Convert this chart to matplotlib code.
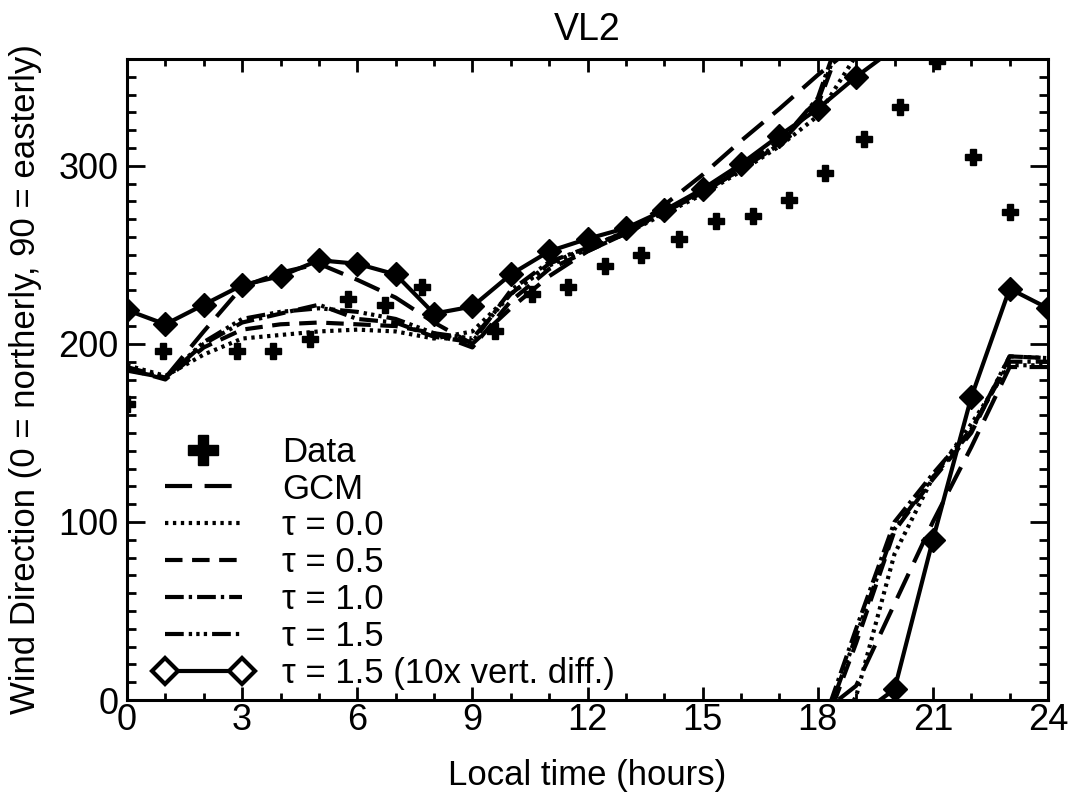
#!/usr/bin/env python3
"""VL2 wind direction: Viking Lander 2 data vs GCM and boundary-layer model runs."""

import numpy as np
import matplotlib
matplotlib.use("Agg")
import matplotlib.pyplot as plt
from matplotlib.lines import Line2D
from matplotlib.legend_handler import HandlerLine2D
from matplotlib.ticker import MultipleLocator

plt.rcParams["font.family"] = ["Liberation Sans", "DejaVu Sans"]

# Model output, one value per local hour 0..24 (degrees, 0-360)
hours = np.arange(25)
gcm = [185, 181, 207, 232, 240, 245, 236, 226, 212, 200, 220, 238, 252,
       262, 278, 295, 314, 332, 351, 8, 54, 100, 142, 187, 187]
tau_00 = [188, 182, 194, 203, 205, 207, 208, 207, 203, 207, 228, 244, 253,
          262, 273, 284, 297, 311, 328, 2, 82, 125, 155, 188, 188]
tau_05 = [186, 180, 198, 208, 211, 212, 211, 210, 206, 198, 224, 242, 252,
          262, 274, 286, 300, 314, 334, 32, 95, 124, 150, 193, 192]
tau_10 = [187, 181, 200, 212, 217, 222, 214, 212, 204, 201, 230, 246, 254,
          263, 274, 285, 298, 313, 338, 40, 100, 127, 152, 190, 190]
tau_15 = [186, 181, 201, 214, 218, 220, 218, 214, 206, 203, 228, 245, 254,
          263, 274, 285, 298, 312, 336, 36, 96, 125, 151, 193, 192]
tau_15_10x = [219, 211, 222, 233, 238, 247, 245, 239, 217, 221, 239, 252, 259,
              265, 275, 287, 301, 317, 332, 350, 6, 90, 170, 231, 220]

# Lander observations
data_time = [0.0, 0.94, 2.87, 3.8, 4.77, 5.76, 6.72, 7.69, 9.6, 10.56, 11.5,
             12.45, 13.4, 14.38, 15.35, 16.3, 17.25, 18.2, 19.2, 20.14, 21.1,
             22.05, 23.0]
data_dir = [166, 196, 196, 196, 203, 225, 222, 232, 207, 228, 232,
            244, 250, 259, 269, 272, 281, 296, 315, 333, 359,
            305, 274]

LW = 3.0
styles = {
    "GCM": (0, (6.5, 3.0)),
    "t00": (0, (0.8, 1.1)),
    "t05": (0, (4.2, 2.3)),
    "t10": (0, (4.5, 1.2, 0.8, 1.2)),
    "t15": (0, (4.5, 1.2, 0.8, 1.0, 0.8, 1.0, 0.8, 1.2)),
}
FS = 25

fig = plt.figure(figsize=(10.78, 8.01), dpi=100)
ax = fig.add_axes([127 / 1078, 101 / 801, 921 / 1078, 641 / 801])


def plot_wrapped(values, **kw):
    # directions are periodic: draw the unwrapped curve and its copy 360 lower
    yu = np.unwrap(np.asarray(values, dtype=float), period=360)
    for shift in (0, -360):
        ax.plot(hours, yu + shift, color="black", lw=LW, **kw)


plot_wrapped(gcm, ls=styles["GCM"])
plot_wrapped(tau_00, ls=styles["t00"])
plot_wrapped(tau_05, ls=styles["t05"])
plot_wrapped(tau_10, ls=styles["t10"])
plot_wrapped(tau_15, ls=styles["t15"])
plot_wrapped(tau_15_10x, ls="-", marker="D", ms=12, mfc="black", mec="black")
ax.plot(data_time, data_dir, ls="none", marker="P", ms=11, color="black")

ax.set_xlim(0, 24)
ax.set_ylim(0, 360)
ax.xaxis.set_major_locator(MultipleLocator(3))
ax.xaxis.set_minor_locator(MultipleLocator(1))
ax.yaxis.set_major_locator(MultipleLocator(100))
ax.yaxis.set_minor_locator(MultipleLocator(10))
ax.tick_params(which="both", direction="in", top=True, right=True, width=2,
               labelsize=26)
ax.tick_params(axis="x", which="major", length=9.5, pad=2)
ax.tick_params(axis="x", which="minor", length=4.8)
ax.tick_params(axis="y", which="major", length=13, pad=6)
ax.tick_params(axis="y", which="minor", length=6.5)
for sp in ax.spines.values():
    sp.set_linewidth(2.2)

ax.set_title("VL2", fontsize=27, pad=14)
ax.set_xlabel("Local time (hours)", fontsize=FS, labelpad=15)
ax.set_ylabel("Wind Direction (0 = northerly, 90 = easterly)", fontsize=FS,
              labelpad=12)

h_data = Line2D([], [], ls="none", marker="P", ms=22, color="black")
handles = [h_data] + [Line2D([], [], color="black", lw=LW, ls=styles[k])
                      for k in ("GCM", "t00", "t05", "t10", "t15")]
handles.append(Line2D([], [], color="black", lw=LW, marker="D", ms=13,
                      mfc="white", mec="black", mew=3))
labels = ["Data", "GCM", "τ = 0.0", "τ = 0.5", "τ = 1.0", "τ = 1.5",
          "τ = 1.5 (10x vert. diff.)"]
ax.legend(handles, labels, loc="lower left", bbox_to_anchor=(0.041, 0.016),
          frameon=False, fontsize=FS, handlelength=2.22, handletextpad=1.15,
          labelspacing=0.11, borderpad=0, borderaxespad=0, numpoints=2,
          handler_map={Line2D: HandlerLine2D(marker_pad=0),
                       h_data: HandlerLine2D(numpoints=1)})

fig.savefig("out.png", dpi=100)
